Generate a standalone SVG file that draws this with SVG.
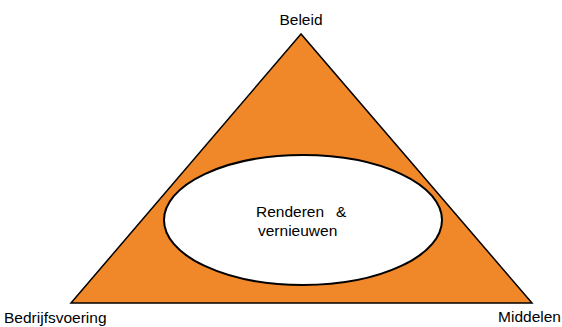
<svg xmlns="http://www.w3.org/2000/svg" width="562" height="327" viewBox="0 0 562 327">
<style>
text{font-family:"Liberation Sans",Arial,sans-serif;font-size:15.5px;fill:#000}
.tri{fill:#F0882A;stroke:#000;stroke-width:1.5;stroke-linejoin:miter}
.ell{fill:#fff;stroke:#000;stroke-width:2}
</style>
<rect width="562" height="327" fill="#fff"/>
<g id="triangle"><polygon class="tri" points="301,34 71,303 532,303"/></g>
<g id="center"><ellipse class="ell" cx="303" cy="220" rx="139" ry="65"/>
<text x="256" y="217">Renderen</text>
<text x="336" y="217">&amp;</text>
<text x="258" y="236">vernieuwen</text></g>
<g id="beleid"><text x="301" y="25" text-anchor="middle">Beleid</text></g>
<g id="bedrijfsvoering"><text x="4" y="322.5" font-size="17">Bedrijfsvoering</text></g>
<g id="middelen"><text x="561" y="322" text-anchor="end">Middelen</text></g>
</svg>
